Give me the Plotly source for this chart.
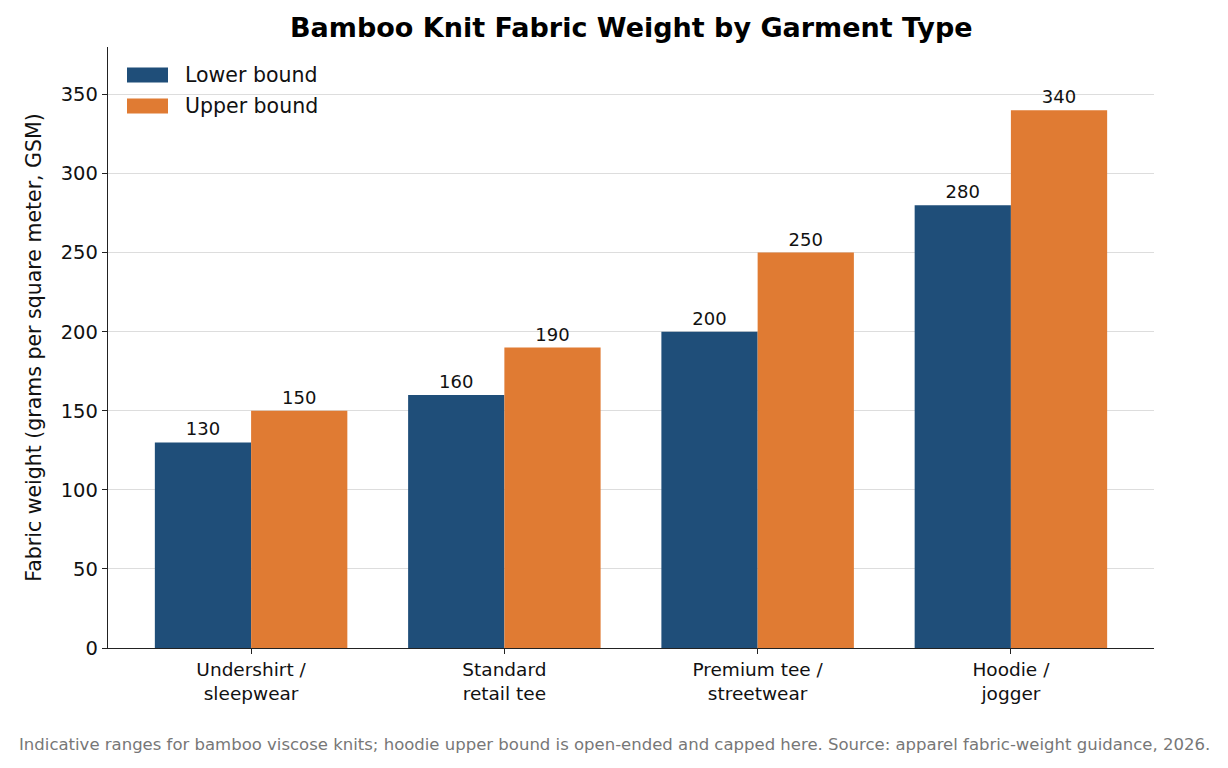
import plotly.graph_objects as go

categories = ["Undershirt /<br>sleepwear", "Standard<br>retail tee", "Premium tee /<br>streetwear", "Hoodie /<br>jogger"]
series_names = ["Lower bound", "Upper bound"]
lower = [130, 160, 200, 280]
upper = [150, 190, 250, 340]
yticks = [0, 50, 100, 150, 200, 250, 300, 350]
colors = ["#1f4e79", "#e07b33"]

FONT = "DejaVu Sans"
# plot area in page pixels (page has an 8px body margin)
PL, PR, PT, PB = 108, 1154, 47, 648
PW, PH = PR - PL, PB - PT


def px(xp):
    return (xp - PL) / PW


def py(yp):
    return (PB - yp) / PH


fig = go.Figure()
for name, vals, col in zip(series_names, [lower, upper], colors):
    fig.add_trace(go.Bar(x=categories, y=vals, name=name, marker_color=col,
                         marker_line_width=0, text=vals, textposition="outside",
                         textfont=dict(size=18, color="#111111", family=FONT),
                         cliponaxis=False, showlegend=False))

fig.update_layout(
    width=1220, height=760,
    barmode="group", bargap=0.24, bargroupgap=0,
    plot_bgcolor="white", paper_bgcolor="white",
    font=dict(family=FONT, color="#111111"),
    margin=dict(l=PL - 8, r=1228 - PR, t=PT - 8, b=768 - PB),
    showlegend=False,
    xaxis=dict(range=[-0.565, 3.565], showline=True, linecolor="#222222", linewidth=1.3,
               ticks="outside", ticklen=5, tickcolor="#222222",
               tickfont=dict(size=18.5, family=FONT, color="#111111"), showgrid=False),
    yaxis=dict(range=[0, 380], tickvals=yticks, showline=True, linecolor="#222222", linewidth=1.3,
               ticks="outside", ticklen=5, tickcolor="#222222",
               tickfont=dict(size=19.5, family=FONT, color="#111111"),
               showgrid=True, gridcolor="#dddddd", gridwidth=1, zeroline=False,
               title=dict(text="Fabric weight (grams per square meter, GSM)", standoff=13,
                          font=dict(size=20.5, family=FONT, color="#111111"))),
)

# title
fig.add_annotation(text="<b>Bamboo Knit Fabric Weight by Garment Type</b>",
                   xref="paper", yref="paper", x=0.5, y=py(27),
                   xanchor="center", yanchor="middle", showarrow=False,
                   font=dict(size=27, family=FONT, color="black"))

# legend (drawn manually to match wide rectangular handles)
for i, (name, col) in enumerate(zip(series_names, colors)):
    yc = 75 + 31 * i
    fig.add_shape(type="rect", xref="paper", yref="paper",
                  x0=px(127), x1=px(168), y0=py(yc - 7.5), y1=py(yc + 7.5),
                  fillcolor=col, line_width=0)
    fig.add_annotation(text=name, xref="paper", yref="paper", x=px(183), y=py(yc),
                       xanchor="left", yanchor="middle", showarrow=False,
                       font=dict(size=20.5, family=FONT, color="#111111"))

fig.add_annotation(text="Indicative ranges for bamboo viscose knits; hoodie upper bound is open-ended and capped here. Source: apparel fabric-weight guidance, 2026.",
                   xref="paper", yref="paper", x=px(614), y=py(744),
                   xanchor="center", yanchor="middle", showarrow=False,
                   font=dict(size=16.5, family=FONT, color="#777777"))
fig.write_html("out.html")
